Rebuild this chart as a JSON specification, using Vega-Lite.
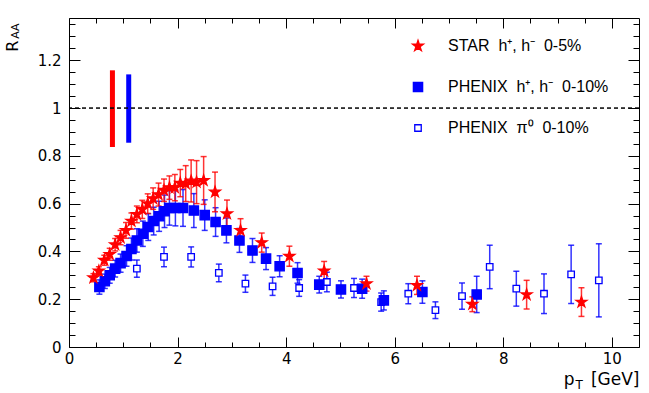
{
  "$schema": "https://vega.github.io/schema/vega-lite/v6.json",
  "autosize": "none",
  "width": 570,
  "height": 329,
  "padding": {"left": 69, "top": 18, "right": 10, "bottom": 46},
  "background": "white",
  "datasets": {
    "pts": [
      {"s": "PHENIX\u00a0\u00a0\u03c0\u2070\u00a0\u00a00-10%", "x": 1.25, "y": 0.328, "e": 0.036},
      {"s": "PHENIX\u00a0\u00a0\u03c0\u2070\u00a0\u00a00-10%", "x": 1.75, "y": 0.377, "e": 0.041},
      {"s": "PHENIX\u00a0\u00a0\u03c0\u2070\u00a0\u00a00-10%", "x": 2.25, "y": 0.377, "e": 0.042},
      {"s": "PHENIX\u00a0\u00a0\u03c0\u2070\u00a0\u00a00-10%", "x": 2.76, "y": 0.31, "e": 0.037},
      {"s": "PHENIX\u00a0\u00a0\u03c0\u2070\u00a0\u00a00-10%", "x": 3.25, "y": 0.265, "e": 0.036},
      {"s": "PHENIX\u00a0\u00a0\u03c0\u2070\u00a0\u00a00-10%", "x": 3.75, "y": 0.254, "e": 0.038},
      {"s": "PHENIX\u00a0\u00a0\u03c0\u2070\u00a0\u00a00-10%", "x": 4.24, "y": 0.247, "e": 0.035},
      {"s": "PHENIX\u00a0\u00a0\u03c0\u2070\u00a0\u00a00-10%", "x": 4.75, "y": 0.272, "e": 0.041},
      {"s": "PHENIX\u00a0\u00a0\u03c0\u2070\u00a0\u00a00-10%", "x": 5.25, "y": 0.247, "e": 0.04},
      {"s": "PHENIX\u00a0\u00a0\u03c0\u2070\u00a0\u00a00-10%", "x": 5.75, "y": 0.188, "e": 0.038},
      {"s": "PHENIX\u00a0\u00a0\u03c0\u2070\u00a0\u00a00-10%", "x": 6.25, "y": 0.223, "e": 0.042},
      {"s": "PHENIX\u00a0\u00a0\u03c0\u2070\u00a0\u00a00-10%", "x": 6.75, "y": 0.154, "e": 0.035},
      {"s": "PHENIX\u00a0\u00a0\u03c0\u2070\u00a0\u00a00-10%", "x": 7.24, "y": 0.213, "e": 0.055},
      {"s": "PHENIX\u00a0\u00a0\u03c0\u2070\u00a0\u00a00-10%", "x": 7.75, "y": 0.335, "e": 0.091},
      {"s": "PHENIX\u00a0\u00a0\u03c0\u2070\u00a0\u00a00-10%", "x": 8.24, "y": 0.244, "e": 0.073},
      {"s": "PHENIX\u00a0\u00a0\u03c0\u2070\u00a0\u00a00-10%", "x": 8.75, "y": 0.223, "e": 0.083},
      {"s": "PHENIX\u00a0\u00a0\u03c0\u2070\u00a0\u00a00-10%", "x": 9.25, "y": 0.304, "e": 0.122},
      {"s": "PHENIX\u00a0\u00a0\u03c0\u2070\u00a0\u00a00-10%", "x": 9.76, "y": 0.279, "e": 0.153},
      {"s": "PHENIX\u00a0\u00a0h\u207a, h\u207b\u00a0\u00a00-10%", "x": 0.56, "y": 0.251, "e": 0.03},
      {"s": "PHENIX\u00a0\u00a0h\u207a, h\u207b\u00a0\u00a00-10%", "x": 0.66, "y": 0.275, "e": 0.03},
      {"s": "PHENIX\u00a0\u00a0h\u207a, h\u207b\u00a0\u00a00-10%", "x": 0.75, "y": 0.3, "e": 0.033},
      {"s": "PHENIX\u00a0\u00a0h\u207a, h\u207b\u00a0\u00a00-10%", "x": 0.85, "y": 0.328, "e": 0.035},
      {"s": "PHENIX\u00a0\u00a0h\u207a, h\u207b\u00a0\u00a00-10%", "x": 0.95, "y": 0.351, "e": 0.038},
      {"s": "PHENIX\u00a0\u00a0h\u207a, h\u207b\u00a0\u00a00-10%", "x": 1.06, "y": 0.381, "e": 0.043},
      {"s": "PHENIX\u00a0\u00a0h\u207a, h\u207b\u00a0\u00a00-10%", "x": 1.15, "y": 0.41, "e": 0.046},
      {"s": "PHENIX\u00a0\u00a0h\u207a, h\u207b\u00a0\u00a00-10%", "x": 1.25, "y": 0.446, "e": 0.049},
      {"s": "PHENIX\u00a0\u00a0h\u207a, h\u207b\u00a0\u00a00-10%", "x": 1.36, "y": 0.474, "e": 0.053},
      {"s": "PHENIX\u00a0\u00a0h\u207a, h\u207b\u00a0\u00a00-10%", "x": 1.46, "y": 0.502, "e": 0.056},
      {"s": "PHENIX\u00a0\u00a0h\u207a, h\u207b\u00a0\u00a00-10%", "x": 1.56, "y": 0.527, "e": 0.058},
      {"s": "PHENIX\u00a0\u00a0h\u207a, h\u207b\u00a0\u00a00-10%", "x": 1.66, "y": 0.547, "e": 0.063},
      {"s": "PHENIX\u00a0\u00a0h\u207a, h\u207b\u00a0\u00a00-10%", "x": 1.76, "y": 0.568, "e": 0.068},
      {"s": "PHENIX\u00a0\u00a0h\u207a, h\u207b\u00a0\u00a00-10%", "x": 1.85, "y": 0.582, "e": 0.072},
      {"s": "PHENIX\u00a0\u00a0h\u207a, h\u207b\u00a0\u00a00-10%", "x": 1.96, "y": 0.582, "e": 0.075},
      {"s": "PHENIX\u00a0\u00a0h\u207a, h\u207b\u00a0\u00a00-10%", "x": 2.1, "y": 0.582, "e": 0.077},
      {"s": "PHENIX\u00a0\u00a0h\u207a, h\u207b\u00a0\u00a00-10%", "x": 2.3, "y": 0.571, "e": 0.071},
      {"s": "PHENIX\u00a0\u00a0h\u207a, h\u207b\u00a0\u00a00-10%", "x": 2.5, "y": 0.552, "e": 0.064},
      {"s": "PHENIX\u00a0\u00a0h\u207a, h\u207b\u00a0\u00a00-10%", "x": 2.7, "y": 0.523, "e": 0.06},
      {"s": "PHENIX\u00a0\u00a0h\u207a, h\u207b\u00a0\u00a00-10%", "x": 2.9, "y": 0.488, "e": 0.052},
      {"s": "PHENIX\u00a0\u00a0h\u207a, h\u207b\u00a0\u00a00-10%", "x": 3.14, "y": 0.446, "e": 0.05},
      {"s": "PHENIX\u00a0\u00a0h\u207a, h\u207b\u00a0\u00a00-10%", "x": 3.38, "y": 0.404, "e": 0.05},
      {"s": "PHENIX\u00a0\u00a0h\u207a, h\u207b\u00a0\u00a00-10%", "x": 3.63, "y": 0.37, "e": 0.046},
      {"s": "PHENIX\u00a0\u00a0h\u207a, h\u207b\u00a0\u00a00-10%", "x": 3.88, "y": 0.338, "e": 0.044},
      {"s": "PHENIX\u00a0\u00a0h\u207a, h\u207b\u00a0\u00a00-10%", "x": 4.21, "y": 0.31, "e": 0.043},
      {"s": "PHENIX\u00a0\u00a0h\u207a, h\u207b\u00a0\u00a00-10%", "x": 4.61, "y": 0.261, "e": 0.035},
      {"s": "PHENIX\u00a0\u00a0h\u207a, h\u207b\u00a0\u00a00-10%", "x": 5.01, "y": 0.241, "e": 0.036},
      {"s": "PHENIX\u00a0\u00a0h\u207a, h\u207b\u00a0\u00a00-10%", "x": 5.4, "y": 0.244, "e": 0.04},
      {"s": "PHENIX\u00a0\u00a0h\u207a, h\u207b\u00a0\u00a00-10%", "x": 5.8, "y": 0.195, "e": 0.04},
      {"s": "PHENIX\u00a0\u00a0h\u207a, h\u207b\u00a0\u00a00-10%", "x": 6.51, "y": 0.23, "e": 0.047},
      {"s": "PHENIX\u00a0\u00a0h\u207a, h\u207b\u00a0\u00a00-10%", "x": 7.51, "y": 0.22, "e": 0.076},
      {"s": "STAR\u00a0\u00a0h\u207a, h\u207b\u00a0\u00a00-5%", "x": 0.45, "y": 0.29, "e": 0.017},
      {"s": "STAR\u00a0\u00a0h\u207a, h\u207b\u00a0\u00a00-5%", "x": 0.55, "y": 0.318, "e": 0.018},
      {"s": "STAR\u00a0\u00a0h\u207a, h\u207b\u00a0\u00a00-5%", "x": 0.65, "y": 0.363, "e": 0.021},
      {"s": "STAR\u00a0\u00a0h\u207a, h\u207b\u00a0\u00a00-5%", "x": 0.75, "y": 0.388, "e": 0.025},
      {"s": "STAR\u00a0\u00a0h\u207a, h\u207b\u00a0\u00a00-5%", "x": 0.85, "y": 0.428, "e": 0.026},
      {"s": "STAR\u00a0\u00a0h\u207a, h\u207b\u00a0\u00a00-5%", "x": 0.95, "y": 0.458, "e": 0.03},
      {"s": "STAR\u00a0\u00a0h\u207a, h\u207b\u00a0\u00a00-5%", "x": 1.05, "y": 0.488, "e": 0.033},
      {"s": "STAR\u00a0\u00a0h\u207a, h\u207b\u00a0\u00a00-5%", "x": 1.15, "y": 0.527, "e": 0.034},
      {"s": "STAR\u00a0\u00a0h\u207a, h\u207b\u00a0\u00a00-5%", "x": 1.25, "y": 0.555, "e": 0.035},
      {"s": "STAR\u00a0\u00a0h\u207a, h\u207b\u00a0\u00a00-5%", "x": 1.35, "y": 0.576, "e": 0.038},
      {"s": "STAR\u00a0\u00a0h\u207a, h\u207b\u00a0\u00a00-5%", "x": 1.45, "y": 0.6, "e": 0.041},
      {"s": "STAR\u00a0\u00a0h\u207a, h\u207b\u00a0\u00a00-5%", "x": 1.55, "y": 0.621, "e": 0.045},
      {"s": "STAR\u00a0\u00a0h\u207a, h\u207b\u00a0\u00a00-5%", "x": 1.65, "y": 0.638, "e": 0.048},
      {"s": "STAR\u00a0\u00a0h\u207a, h\u207b\u00a0\u00a00-5%", "x": 1.75, "y": 0.656, "e": 0.047},
      {"s": "STAR\u00a0\u00a0h\u207a, h\u207b\u00a0\u00a00-5%", "x": 1.85, "y": 0.667, "e": 0.049},
      {"s": "STAR\u00a0\u00a0h\u207a, h\u207b\u00a0\u00a00-5%", "x": 1.95, "y": 0.667, "e": 0.055},
      {"s": "STAR\u00a0\u00a0h\u207a, h\u207b\u00a0\u00a00-5%", "x": 2.05, "y": 0.686, "e": 0.057},
      {"s": "STAR\u00a0\u00a0h\u207a, h\u207b\u00a0\u00a00-5%", "x": 2.15, "y": 0.684, "e": 0.075},
      {"s": "STAR\u00a0\u00a0h\u207a, h\u207b\u00a0\u00a00-5%", "x": 2.25, "y": 0.695, "e": 0.088},
      {"s": "STAR\u00a0\u00a0h\u207a, h\u207b\u00a0\u00a00-5%", "x": 2.35, "y": 0.69, "e": 0.09},
      {"s": "STAR\u00a0\u00a0h\u207a, h\u207b\u00a0\u00a00-5%", "x": 2.48, "y": 0.697, "e": 0.1},
      {"s": "STAR\u00a0\u00a0h\u207a, h\u207b\u00a0\u00a00-5%", "x": 2.69, "y": 0.649, "e": 0.083},
      {"s": "STAR\u00a0\u00a0h\u207a, h\u207b\u00a0\u00a00-5%", "x": 2.91, "y": 0.558, "e": 0.057},
      {"s": "STAR\u00a0\u00a0h\u207a, h\u207b\u00a0\u00a00-5%", "x": 3.16, "y": 0.488, "e": 0.049},
      {"s": "STAR\u00a0\u00a0h\u207a, h\u207b\u00a0\u00a00-5%", "x": 3.55, "y": 0.437, "e": 0.04},
      {"s": "STAR\u00a0\u00a0h\u207a, h\u207b\u00a0\u00a00-5%", "x": 4.06, "y": 0.38, "e": 0.042},
      {"s": "STAR\u00a0\u00a0h\u207a, h\u207b\u00a0\u00a00-5%", "x": 4.7, "y": 0.318, "e": 0.04},
      {"s": "STAR\u00a0\u00a0h\u207a, h\u207b\u00a0\u00a00-5%", "x": 5.48, "y": 0.265, "e": 0.031},
      {"s": "STAR\u00a0\u00a0h\u207a, h\u207b\u00a0\u00a00-5%", "x": 6.41, "y": 0.258, "e": 0.038},
      {"s": "STAR\u00a0\u00a0h\u207a, h\u207b\u00a0\u00a00-5%", "x": 7.43, "y": 0.179, "e": 0.031},
      {"s": "STAR\u00a0\u00a0h\u207a, h\u207b\u00a0\u00a00-5%", "x": 8.43, "y": 0.219, "e": 0.06},
      {"s": "STAR\u00a0\u00a0h\u207a, h\u207b\u00a0\u00a00-5%", "x": 9.44, "y": 0.188, "e": 0.06}
    ],
    "norm": [
      {"s": "STAR\u00a0\u00a0h\u207a, h\u207b\u00a0\u00a00-5%", "x": 0.8, "lo": 0.837, "hi": 1.158},
      {"s": "PHENIX\u00a0\u00a0h\u207a, h\u207b\u00a0\u00a00-10%", "x": 1.1, "lo": 0.855, "hi": 1.141}
    ]
  },
  "layer": [
    {
      "data": {"name": "norm"},
      "transform": [{"filter": "datum.x < 1"}],
      "mark": {"type": "rule", "color": "#ff0000", "strokeWidth": 5},
      "encoding": {
        "x": {"field": "x", "type": "quantitative",
          "scale": {"domain": [0, 10.5], "nice": false, "zero": false},
          "axis": {"orient": "bottom", "domain": false, "grid": false,
            "values": [0,0.5,1,1.5,2,2.5,3,3.5,4,4.5,5,5.5,6,6.5,7,7.5,8,8.5,9,9.5,10],
            "tickSize": {"condition": {"test": "datum.value % 2 === 0", "value": -10}, "value": -5},
            "labelExpr": "datum.value % 2 === 0 ? format(datum.value, '~g') : ''",
            "labelPadding": 14, "labelFont": "DejaVu Sans", "labelFontSize": 15, "labelFlush": false, "labelOverlap": false, "labelBound": false,
            "title": "[GeV]", "titleFont": "DejaVu Sans", "titleFontSize": 17, "titleAlign": "right", "titleAnchor": "end", "titleBaseline": "alphabetic", "titleX": 570, "titleY": 37}},
        "y": {"field": "lo", "type": "quantitative",
          "scale": {"domain": [0, 1.377], "nice": false, "zero": false},
          "axis": {"orient": "left", "domain": false, "grid": false,
            "values": [0,0.05,0.1,0.15,0.2,0.25,0.3,0.35,0.4,0.45,0.5,0.55,0.6,0.65,0.7,0.75,0.8,0.85,0.9,0.95,1,1.05,1.1,1.15,1.2,1.25,1.3,1.35],
            "tickSize": {"condition": {"test": "abs(datum.value*5 - round(datum.value*5)) < 0.001", "value": -11}, "value": -6},
            "labelExpr": "abs(datum.value*5 - round(datum.value*5)) < 0.001 ? format(datum.value, '~g') : ''",
            "labelPadding": 19, "labelFont": "DejaVu Sans", "labelFontSize": 15, "labelFlush": false, "labelOverlap": false, "labelBound": false,
            "title": "R", "titleFont": "DejaVu Sans", "titleFontSize": 16, "titleAngle": -90, "titleAlign": "right", "titleAnchor": "end", "titleBaseline": "alphabetic", "titleX": -52, "titleY": 22}},
        "y2": {"field": "hi"}
      }
    },
    {
      "data": {"name": "norm"},
      "transform": [{"filter": "datum.x > 1"}],
      "mark": {"type": "rule", "color": "#0000ff", "strokeWidth": 5},
      "encoding": {
        "x": {"field": "x", "type": "quantitative",
          "axis": {"orient": "bottom", "labels": false, "ticks": false, "domain": false, "grid": false,
            "title": "p", "titleFont": "DejaVu Sans", "titleFontSize": 17, "titleAlign": "right", "titleAnchor": "end", "titleBaseline": "alphabetic", "titleX": 505, "titleY": 37}},
        "y": {"field": "lo", "type": "quantitative", "axis": null},
        "y2": {"field": "hi"}
      }
    },
    {
      "data": {"name": "norm"},
      "mark": {"type": "rule", "color": "black", "strokeWidth": 1, "strokeDash": [4, 3]},
      "encoding": {"y": {"datum": 1, "type": "quantitative", "axis": null}}
    },
    {
      "data": {"name": "pts"},
      "transform": [{"filter": "indexof(datum.s, 'PHENIX') === 0"}],
      "mark": {"type": "errorbar", "ticks": true, "size": 6, "thickness": 1.5, "opacity": 0.8, "color": "#0000ff"},
      "encoding": {
        "x": {"field": "x", "type": "quantitative",
          "axis": {"orient": "top", "labels": false, "domain": false, "grid": false, "title": null,
            "values": [0,0.5,1,1.5,2,2.5,3,3.5,4,4.5,5,5.5,6,6.5,7,7.5,8,8.5,9,9.5,10],
            "tickSize": {"condition": {"test": "datum.value % 2 === 0", "value": -10}, "value": -5}}},
        "y": {"field": "y", "type": "quantitative",
          "axis": {"orient": "right", "labels": false, "domain": false, "grid": false, "title": null,
            "values": [0,0.05,0.1,0.15,0.2,0.25,0.3,0.35,0.4,0.45,0.5,0.55,0.6,0.65,0.7,0.75,0.8,0.85,0.9,0.95,1,1.05,1.1,1.15,1.2,1.25,1.3,1.35],
            "tickSize": {"condition": {"test": "abs(datum.value*5 - round(datum.value*5)) < 0.001", "value": -11}, "value": -6}}},
        "yError": {"field": "e"}
      }
    },
    {
      "data": {"name": "pts"},
      "transform": [{"filter": "indexof(datum.s, 'STAR') === 0"}],
      "mark": {"type": "errorbar", "ticks": true, "size": 6, "thickness": 1.5, "opacity": 0.8, "color": "#ff0000"},
      "encoding": {
        "x": {"field": "x", "type": "quantitative", "axis": null},
        "y": {"field": "y", "type": "quantitative", "axis": null},
        "yError": {"field": "e"}
      }
    },
    {
      "data": {"name": "pts"},
      "mark": {"type": "point", "strokeWidth": 1.3, "opacity": 1},
      "encoding": {
        "x": {"field": "x", "type": "quantitative",
          "axis": {"orient": "bottom", "labels": false, "ticks": false, "domain": false, "grid": false,
            "title": "T", "titleFont": "DejaVu Sans", "titleFontSize": 12, "titleAlign": "left", "titleAnchor": "start", "titleBaseline": "alphabetic", "titleX": 506, "titleY": 41}},
        "y": {"field": "y", "type": "quantitative",
          "axis": {"orient": "left", "labels": false, "ticks": false, "domain": false, "grid": false,
            "title": "AA", "titleFont": "DejaVu Sans", "titleFontSize": 11, "titleAngle": -90, "titleAlign": "right", "titleAnchor": "end", "titleBaseline": "alphabetic", "titleX": -51, "titleY": 5}},
        "shape": {"field": "s", "type": "nominal", "title": null,
          "scale": {"domain": ["STAR\u00a0\u00a0h\u207a, h\u207b\u00a0\u00a00-5%", "PHENIX\u00a0\u00a0h\u207a, h\u207b\u00a0\u00a00-10%", "PHENIX\u00a0\u00a0\u03c0\u2070\u00a0\u00a00-10%"], "range": ["M0,-1L0.2245,-0.309L0.951,-0.309L0.363,0.118L0.588,0.809L0,0.382L-0.588,0.809L-0.363,0.118L-0.951,-0.309L-0.2245,-0.309Z", "square", "square"]}},
        "fill": {"field": "s", "type": "nominal", "title": null,
          "scale": {"domain": ["STAR\u00a0\u00a0h\u207a, h\u207b\u00a0\u00a00-5%", "PHENIX\u00a0\u00a0h\u207a, h\u207b\u00a0\u00a00-10%", "PHENIX\u00a0\u00a0\u03c0\u2070\u00a0\u00a00-10%"], "range": ["#ff0000", "#0000ff", "#ffffff"]}},
        "stroke": {"field": "s", "type": "nominal", "title": null,
          "scale": {"domain": ["STAR\u00a0\u00a0h\u207a, h\u207b\u00a0\u00a00-5%", "PHENIX\u00a0\u00a0h\u207a, h\u207b\u00a0\u00a00-10%", "PHENIX\u00a0\u00a0\u03c0\u2070\u00a0\u00a00-10%"], "range": ["#ff0000", "#0000ff", "#0000ff"]}},
        "size": {"field": "s", "type": "nominal", "title": null,
          "scale": {"domain": ["STAR\u00a0\u00a0h\u207a, h\u207b\u00a0\u00a00-5%", "PHENIX\u00a0\u00a0h\u207a, h\u207b\u00a0\u00a00-10%", "PHENIX\u00a0\u00a0\u03c0\u2070\u00a0\u00a00-10%"], "range": [130, 42, 42]}}
      }
    }
  ],
  "resolve": {"axis": {"x": "independent", "y": "independent"}},
  "config": {
    "font": "Liberation Sans",
    "view": {"stroke": "#000000", "strokeWidth": 1},
    "axis": {"labelColor": "#000000", "titleColor": "#000000", "tickColor": "#000000", "titleFontWeight": "normal", "tickWidth": 1},
    "legend": {"orient": "none", "legendX": 341, "legendY": 20, "padding": 0, "labelFont": "Liberation Sans", "labelFontSize": 16, "labelColor": "#000000", "labelLimit": 400, "labelOffset": 22, "rowPadding": 25, "symbolStrokeWidth": 1.3}
  }
}
